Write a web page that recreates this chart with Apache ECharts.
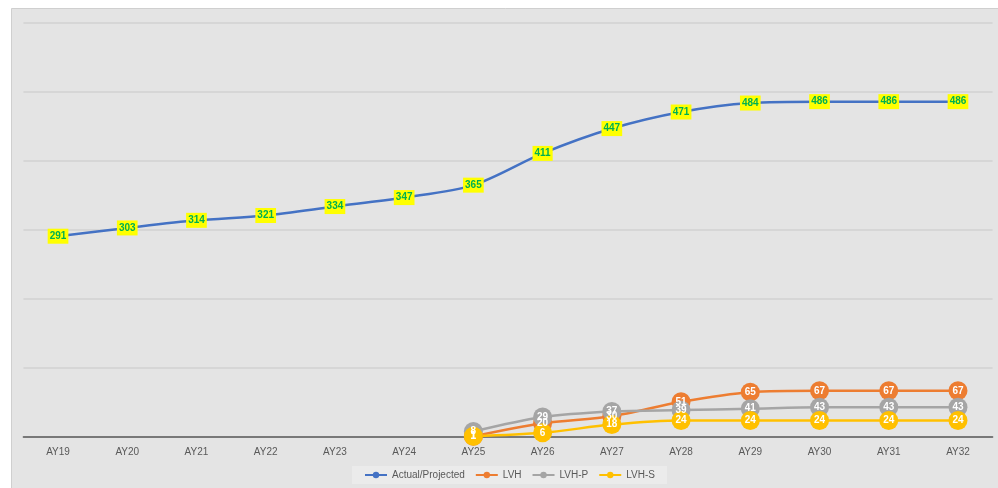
<!DOCTYPE html>
<html><head><meta charset="utf-8">
<script src="https://cdn.jsdelivr.net/npm/echarts@6/dist/echarts.min.js"></script>
<style>html,body{margin:0;padding:0;background:#fff}#c{width:998px;height:488px}</style>
</head><body><div id="c"></div>
<script>
const categories = ['AY19','AY20','AY21','AY22','AY23','AY24','AY25','AY26','AY27','AY28','AY29','AY30','AY31','AY32'];
const actualProjected = [291,303,314,321,334,347,365,411,447,471,484,486,486,486];
const lvh  = [null,null,null,null,null,null,1,20,30,51,65,67,67,67];
const lvhP = [null,null,null,null,null,null,8,29,37,39,41,43,43,43];
const lvhS = [null,null,null,null,null,null,1,6,18,24,24,24,24,24];

const chart = echarts.init(document.getElementById('c'));
const FONT = 'Liberation Sans';
function small(name, data, color){
  return {
    name, type:'line', data, smooth:0.3, connectNulls:false,
    symbol:'circle', symbolSize:19,
    lineStyle:{color, width:2.5}, itemStyle:{color},
    label:{show:true, position:'inside', color:'#fff', fontWeight:'bold', fontSize:10, fontFamily:FONT}
  };
}
chart.setOption({
  backgroundColor:'#fff',
  animation:false,
  textStyle:{fontFamily:FONT},
  graphic:[{type:'rect', z:-10, shape:{x:11.5,y:8.5,width:992,height:490}, style:{fill:'#e4e4e4', stroke:'#cfcfcf', lineWidth:1}}],
  grid:{left:23.4, right:5.4, top:23, bottom:51},
  xAxis:{type:'category', data:categories, boundaryGap:true,
    axisLine:{lineStyle:{color:'#595959', width:1.5}}, axisTick:{show:false},
    axisLabel:{color:'#595959', fontSize:10, margin:10, fontFamily:FONT}},
  yAxis:{type:'value', min:0, max:600, interval:100,
    axisLabel:{show:false}, axisLine:{show:false}, axisTick:{show:false},
    splitLine:{lineStyle:{color:'#d2d2d2', width:1.5}}},
  legend:{bottom:4, left:352, backgroundColor:'#ebebeb', padding:[4,12], itemGap:10,
    itemWidth:22, itemHeight:8,
    textStyle:{color:'#595959', fontSize:10, fontFamily:FONT},
    data:['Actual/Projected','LVH','LVH-P','LVH-S']},
  series:[
    {name:'Actual/Projected', type:'line', data:actualProjected, smooth:0.3,
      symbol:'circle', symbolSize:12,
      lineStyle:{color:'#4472c4', width:2.5}, itemStyle:{color:'#4472c4'},
      label:{show:true, position:'inside', color:'#00b050', fontWeight:'bold', fontSize:10,
        fontFamily:FONT, backgroundColor:'#ffff00', padding:[3,2,2,2]}},
    small('LVH', lvh, '#ed7d31'),
    small('LVH-P', lvhP, '#a5a5a5'),
    small('LVH-S', lvhS, '#ffc000')
  ]
});
</script></body></html>
